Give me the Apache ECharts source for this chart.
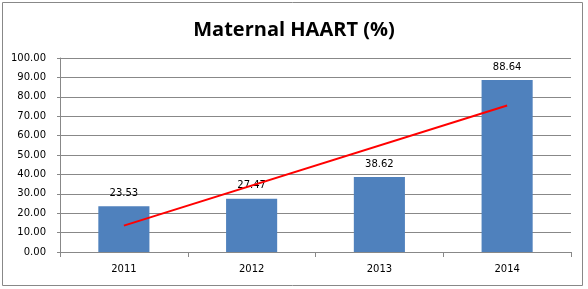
<!DOCTYPE html>
<html>
<head>
<meta charset="utf-8">
<script src="https://cdn.jsdelivr.net/npm/echarts@6/dist/echarts.min.js"></script>
<style>
  html, body { margin: 0; padding: 0; background: #fff; }
  #chart { width: 588px; height: 289px; }
</style>
</head>
<body>
<div id="chart"></div>
<script>
const years = ["2011", "2012", "2013", "2014"];
const haart = [23.53, 27.47, 38.62, 88.64];
// linear trend line, end points
const trend = [13.6, null, null, 75.5];

const chart = echarts.init(document.getElementById("chart"));

const axisFont = { fontFamily: "DejaVu Sans", fontSize: 10, color: "#000" };

chart.setOption({
  animation: false,
  backgroundColor: "#fff",
  title: {
    text: "Maternal HAART (%)",
    left: "center",
    top: 15,
    textStyle: { fontFamily: "Open Sans", fontWeight: "bold", fontSize: 20, color: "#000" }
  },
  graphic: [{
    type: "rect",
    shape: { x: 2.5, y: 2.5, width: 580, height: 283 },
    style: { fill: "none", stroke: "#888", lineWidth: 1 }
  }],
  grid: { left: 60, right: 17, top: 58, bottom: 37 },
  xAxis: {
    type: "category",
    data: years,
    axisLine: { lineStyle: { color: "#888" } },
    axisTick: { show: true, length: 5, lineStyle: { color: "#888" } },
    axisLabel: { ...axisFont, margin: 12 }
  },
  yAxis: {
    type: "value",
    min: 0,
    max: 100,
    interval: 10,
    axisLine: { show: true, lineStyle: { color: "#888" } },
    axisTick: { show: true, length: 3, lineStyle: { color: "#888" } },
    splitLine: { lineStyle: { color: "#888" } },
    axisLabel: { ...axisFont, margin: 14, formatter: v => v.toFixed(2) }
  },
  series: [
    {
      type: "bar",
      data: haart,
      barWidth: "40%",
      itemStyle: { color: "#4F81BD" },
      label: {
        show: true,
        position: "top",
        distance: 8,
        ...axisFont,
        formatter: p => p.value.toFixed(2)
      }
    },
    {
      type: "line",
      data: trend,
      connectNulls: true,
      symbol: "none",
      lineStyle: { color: "#FF0000", width: 2 },
      z: 5
    }
  ]
});
</script>
</body>
</html>
